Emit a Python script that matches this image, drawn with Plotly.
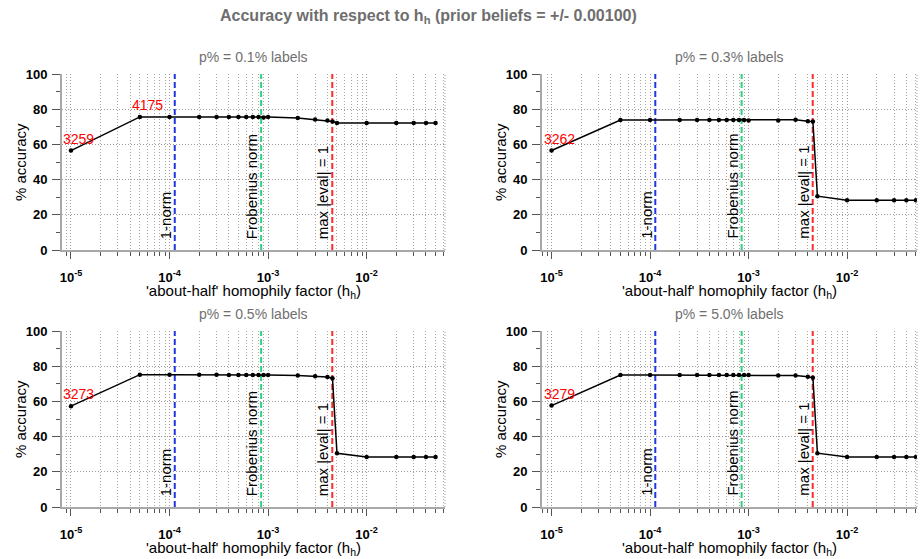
import numpy as np
import plotly.graph_objects as go

# ---------------- data ----------------
h_values = [1e-5, 5e-5, 1e-4, 2e-4, 3e-4, 4e-4, 5e-4, 6e-4, 7e-4, 8e-4, 9e-4, 1e-3,
            2e-3, 3e-3, 4e-3, 4.5e-3, 5e-3, 1e-2, 2e-2, 3e-2, 4e-2, 5e-2]

acc_p01 = [56.5, 75.6, 75.6, 75.6, 75.6, 75.6, 75.6, 75.6, 75.6, 75.6, 75.3, 75.6,
           75.0, 74.2, 73.6, 73.0, 72.2, 72.2, 72.2, 72.2, 72.2, 72.2]
acc_p03 = [56.5, 73.8, 73.8, 73.8, 73.8, 73.8, 73.8, 73.8, 73.8, 73.8, 73.8, 73.6,
           73.6, 74.0, 73.2, 73.0, 30.6, 28.3, 28.3, 28.3, 28.3, 28.3]
acc_p05 = [57.3, 75.2, 75.2, 75.2, 75.2, 75.0, 75.0, 75.0, 75.0, 75.0, 75.0, 75.0,
           74.7, 74.3, 73.8, 73.2, 30.5, 28.4, 28.4, 28.4, 28.4, 28.4]
acc_p50 = [57.6, 75.0, 75.0, 75.0, 75.0, 75.0, 75.0, 75.0, 75.0, 75.0, 75.0, 75.0,
           74.7, 74.7, 74.0, 73.4, 30.6, 28.4, 28.4, 28.4, 28.4, 28.4]

panel_titles = ["p% = 0.1% labels", "p% = 0.3% labels", "p% = 0.5% labels", "p% = 5.0% labels"]
panel_series = [acc_p01, acc_p03, acc_p05, acc_p50]
# red count labels: (index of point, text)
point_labels = [[(0, "3259"), (1, "4175")], [(0, "3262")], [(0, "3273")], [(0, "3279")]]

vline_values = [1.13e-4, 8.5e-4, 4.48e-3]
vline_names = ["1-norm", "Frobenius norm", "max |eval| = 1"]
vline_colors = ["#2038e0", "#30d080", "#ff2a2a"]

x_tickvals = [1e-5, 1e-4, 1e-3, 1e-2]
x_ticktext = ["10<sup>-5</sup>", "10<sup>-4</sup>", "10<sup>-3</sup>", "10<sup>-2</sup>"]

main_title = "Accuracy with respect to h<sub>h</sub> (prior beliefs = +/- 0.00100)"
x_title = "'about-half' homophily factor (h<sub>h</sub>)"
y_title = "% accuracy"

# ---------------- layout geometry ----------------
W, H = 921, 559
FONT = "Liberation Sans, Arial, sans-serif"
px_domains = [((62, 445), (74, 250)), ((542, 917), (74, 250)),
              ((62, 445), (331, 507)), ((542, 917), (331, 507))]
x_ranges = [[-5.091, -1.205], [-5.097, -1.29], [-5.091, -1.205], [-5.097, -1.29]]

GRID_DASH = "1px,2px"
fig = go.Figure()
annotations = []

for i in range(4):
    n = "" if i == 0 else str(i + 1)
    xa, ya = "x" + n, "y" + n
    (xl, xr), (yt, yb) = px_domains[i]
    xdom = [xl / W, xr / W]
    ydom = [1 - yb / H, 1 - yt / H]

    grid = dict(gridcolor="#9a9a9a", griddash=GRID_DASH, gridwidth=1)
    fig.update_layout(**{
        "xaxis" + n: dict(
            domain=xdom, anchor=ya, type="log", range=x_ranges[i],
            tickmode="array", tickvals=x_tickvals, ticktext=x_ticktext,
            showline=True, linecolor="#a8a8a8", linewidth=2,
            ticks="outside", ticklen=7, tickwidth=1, tickcolor="#555555",
            ticklabelstandoff=7, automargin=False,
            tickfont=dict(family=FONT, size=13, color="black", weight="bold"),
            showgrid=True, **grid,
            minor=dict(dtick="D1", ticks="outside", ticklen=4, tickcolor="#555555",
                       showgrid=True, gridcolor="#a8a8a8", griddash=GRID_DASH, gridwidth=1),
            zeroline=False, fixedrange=True,
        ),
        "yaxis" + n: dict(
            domain=ydom, anchor=xa, range=[0, 100], dtick=20, automargin=False,
            showline=True, linecolor="#a8a8a8", linewidth=2,
            ticks="outside", ticklen=8, tickwidth=1, tickcolor="#555555",
            ticklabelstandoff=2,
            tickfont=dict(family=FONT, size=13, color="black", weight="bold"),
            showgrid=True, **grid,
            minor=dict(dtick=10, ticks="outside", ticklen=4, tickcolor="#555555", showgrid=False),
            zeroline=False, fixedrange=True,
        ),
    })

    # dotted border at right
    fig.add_shape(type="line", xref=xa + " domain", yref=ya + " domain",
                  x0=1, x1=1, y0=0, y1=1, line=dict(color="#9a9a9a", width=1, dash=GRID_DASH))

    # vertical reference lines
    for v, name, c in zip(vline_values, vline_names, vline_colors):
        fig.add_trace(go.Scatter(x=[v, v], y=[0, 100], mode="lines", xaxis=xa, yaxis=ya,
                                 line=dict(color=c, width=2, dash="6px,3px"),
                                 hoverinfo="skip", showlegend=False))
        annotations.append(dict(x=np.log10(v), y=0, xref=xa, yref=ya, text=name,
                                textangle=-90, showarrow=False, xanchor="right",
                                yanchor="bottom", xshift=1, yshift=9,
                                font=dict(family=FONT, size=15, color="black")))

    # data series
    fig.add_trace(go.Scatter(x=h_values, y=panel_series[i], mode="lines+markers",
                             xaxis=xa, yaxis=ya,
                             line=dict(color="black", width=1.5),
                             marker=dict(color="black", size=4.5),
                             showlegend=False))

    for idx, txt in point_labels[i]:
        annotations.append(dict(x=np.log10(h_values[idx]), y=panel_series[i][idx],
                                xref=xa, yref=ya, text=txt, showarrow=False,
                                xanchor="left", yanchor="bottom", xshift=-10, yshift=2,
                                font=dict(family=FONT, size=14, color="#ff0000")))

    # subplot title
    annotations.append(dict(x=(xl + xr) / 2 / W, y=1 - (yt - 17) / H, xref="paper", yref="paper",
                            text=panel_titles[i], showarrow=False, xanchor="center",
                            yanchor="middle",
                            font=dict(family=FONT, size=14, color="#707070")))
    # x-axis title
    annotations.append(dict(x=(xl + xr) / 2 / W, y=1 - (yb + 41) / H, xref="paper", yref="paper",
                            text=x_title, showarrow=False, xanchor="center", yanchor="middle",
                            font=dict(family=FONT, size=15, color="black")))
    # y-axis title
    annotations.append(dict(x=(xl - 42) / W, y=1 - (yt + yb) / 2 / H, xref="paper", yref="paper",
                            text=y_title, showarrow=False, textangle=-90, xanchor="center",
                            yanchor="middle",
                            font=dict(family=FONT, size=15, color="black")))

annotations.append(dict(x=428 / W, y=1 - 17 / H, xref="paper", yref="paper", text=main_title,
                        showarrow=False, xanchor="center", yanchor="middle",
                        font=dict(family=FONT, size=16, color="#6e6e6e", weight="bold")))

fig.update_layout(width=W, height=H, margin=dict(l=0, r=0, t=0, b=0),
                  paper_bgcolor="white", plot_bgcolor="white",
                  annotations=annotations, showlegend=False)

fig.write_html("out.html", config={"displayModeBar": False},
               post_script="document.body.style.margin='0';document.body.style.overflow='hidden';")
